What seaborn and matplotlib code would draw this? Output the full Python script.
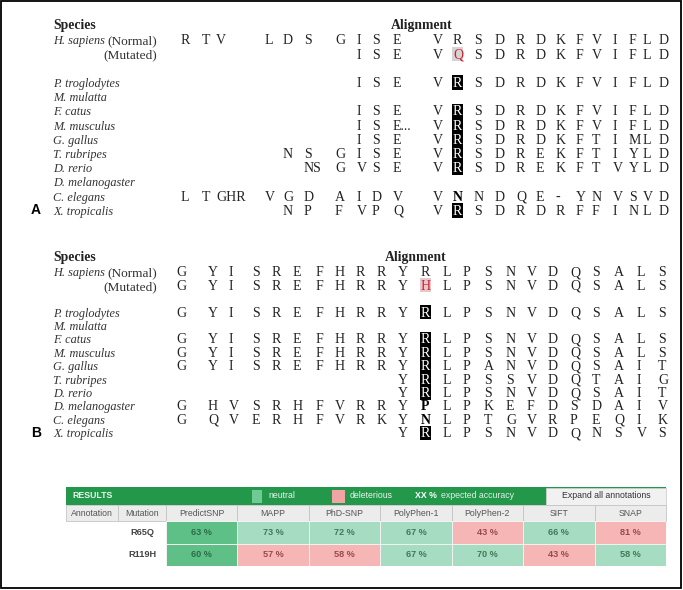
import numpy as np
import matplotlib
matplotlib.use("Agg")
import matplotlib.pyplot as plt
import seaborn as sns
from matplotlib.colors import ListedColormap
from matplotlib.patches import Rectangle

# ---------------- data ----------------
species = ["H. sapiens", "", "", "P. troglodytes", "M. mulatta", "F. catus", "M. musculus",
           "G. gallus", "T. rubripes", "D. rerio", "D. melanogaster", "C. elegans", "X. tropicalis"]

# '_' = no residue shown
align_a = [
    "R T V L D S G I S E V R S D R D K F V I F L D",
    "_ _ _ _ _ _ _ I S E V Q S D R D K F V I F L D",
    "",
    "_ _ _ _ _ _ _ I S E V R S D R D K F V I F L D",
    "",
    "_ _ _ _ _ _ _ I S E V R S D R D K F V I F L D",
    "_ _ _ _ _ _ _ I S E... V R S D R D K F V I F L D",
    "_ _ _ _ _ _ _ I S E V R S D R D K F T I M L D",
    "_ _ _ _ N S G I S E V R S D R E K F T I Y L D",
    "_ _ _ _ _ NS G V S E V R S D R E K F T V Y L D",
    "",
    "L T GHR V G D A I D V V N N D Q E - Y N V S V D",
    "_ _ _ _ N P F V P Q V R S D R D R F F I N L D",
]
align_b = [
    "G Y I S R E F H R R Y R L P S N V D Q S A L S",
    "G Y I S R E F H R R Y H L P S N V D Q S A L S",
    "",
    "G Y I S R E F H R R Y R L P S N V D Q S A L S",
    "",
    "G Y I S R E F H R R Y R L P S N V D Q S A L S",
    "G Y I S R E F H R R Y R L P S N V D Q S A L S",
    "G Y I S R E F H R R Y R L P A N V D Q S A I T",
    "_ _ _ _ _ _ _ _ _ _ Y R L P S S V D Q T A I G",
    "_ _ _ _ _ _ _ _ _ _ Y R L P S N V D Q S A I T",
    "G H V S R H F V R R Y P L P K E F D S D A I V",
    "G Q V E R H F V R K Y N L P T G V R P E Q I K",
    "_ _ _ _ _ _ _ _ _ _ Y R L P S N V D Q N S V S",
]
site_a, site_b = 11, 11          # column of the mutated residue

tools = ["PredictSNP", "MAPP", "PhD-SNP", "PolyPhen-1", "PolyPhen-2", "SIFT", "SNAP"]
mutations = ["R65Q", "R119H"]
accuracy = [[63, 73, 72, 67, 43, 66, 81],
            [60, 57, 58, 67, 70, 43, 58]]
prediction = [["N", "N", "N", "N", "D", "N", "D"],
              ["N", "D", "D", "N", "N", "D", "N"]]

# ---------------- layout ----------------
W, H = 683, 590
cols_a = [181, 202, 216, 265, 283, 304, 335, 357, 372, 393, 433, 453, 474, 495, 516,
          536, 556, 576, 592, 613, 629, 643, 659]
cols_b = [176, 208, 229, 252, 272, 293, 316, 335, 356, 377, 398, 421, 443, 463, 484,
          506, 527, 548, 570, 592, 614, 637, 658]

serif = "Liberation Serif"
sans = "Liberation Sans"
ink = "#222222"
base = 4.4   # baseline offset below the row centre (px)

fig = plt.figure(figsize=(W / 100, H / 100), dpi=100)
canvas = fig.add_axes([0, 0, 1, 1])
canvas.set_xlim(0, W)
canvas.set_ylim(H, 0)
canvas.axis("off")
canvas.add_patch(Rectangle((0.8, 0.8), W - 2.6, H - 2.6, fill=False, ec="black", lw=1.3))


def alignment_panel(rows, cols, site, y0, step, y_head, x_head, label, mut_color_bg):
    canvas.text(53, y_head + base, "Species", family=serif, weight="bold", fontsize=9.8,
                va="baseline", color=ink)
    canvas.text(x_head, y_head + base, "Alignment", family=serif, weight="bold", fontsize=9.8,
                va="baseline", ha="center", color=ink)
    for i, (name, seq) in enumerate(zip(species, rows)):
        y = y0 + step * i
        if name:
            canvas.text(53, y + base, name, family=serif, style="italic", fontsize=8.8,
                        va="baseline", color="#333333")
        if i == 0:
            canvas.text(157, y + base, "(Normal)", family=serif, fontsize=9.6, va="baseline",
                        ha="right", color="#333333")
        if i == 1:
            canvas.text(157, y + base, "(Mutated)", family=serif, fontsize=9.6, va="baseline",
                        ha="right", color="#333333")
        for j, res in enumerate(seq.split()):
            if res == "_":
                continue
            kw = dict(family=serif, fontsize=10, va="baseline", ha="left", color=ink)
            if j == site and i > 0:
                if i == 1:
                    canvas.add_patch(Rectangle((cols[j] - 1.5, y - 7), 11.5, 14,
                                               fc=mut_color_bg, ec="none"))
                    kw.update(color="#d0202a")
                elif res == "R":
                    canvas.add_patch(Rectangle((cols[j] - 1, y - step / 2 - 0.3), 10.5,
                                               step + 0.6, fc="black", ec="none"))
                    kw.update(color="white")
                else:
                    kw.update(weight="bold", color="black")
            canvas.text(cols[j], y + base, res, **kw)
    canvas.text(31, y0 + step * 12, label, family=sans, weight="bold", fontsize=10,
                va="center", color="black")


alignment_panel(align_a, cols_a, site_a, 40, 14.2, 25, 422, "A", "#d4d4d4")
alignment_panel(align_b, cols_b, site_b, 272, 13.4, 257, 416, "B", "#e6c8cc")

# ---------------- panel C: results table ----------------
t_left, t_right = 66, 666
c_ann, c_mut, c_tab = 66, 118, 166
y_bar, y_hdr, y_row, y_end = 487, 505, 521, 566
cw = (t_right - c_tab) / len(tools)
ymid = (y_bar + y_hdr) / 2

canvas.add_patch(Rectangle((t_left, y_bar), t_right - t_left, y_hdr - y_bar, fc="#23984b", ec="none"))
canvas.text(72, ymid, "RESULTS", family=sans, weight="bold", fontsize=6.3,
            color="#e8f6ec", va="center")
canvas.add_patch(Rectangle((252, 489.5), 10, 13, fc="#6fcb93", ec="none"))
canvas.text(268, ymid, "neutral", family=sans, fontsize=6.3, color="#e8f6ec", va="center")
canvas.add_patch(Rectangle((332, 489.5), 13, 13, fc="#f2a3a3", ec="none"))
canvas.text(350, ymid, "deleterious", family=sans, fontsize=6.3, color="#e8f6ec", va="center")
canvas.text(415, ymid, "XX %", family=sans, weight="bold", fontsize=6.3,
            color="white", va="center")
canvas.text(441, ymid, "expected accuracy", family=sans, fontsize=6.3,
            color="#dff3e6", va="center")
canvas.add_patch(Rectangle((546, y_bar + 0.5), t_right - 546, y_hdr - y_bar - 1, fc="#f1f1f1",
                           ec="#cfcfcf", lw=0.6))
canvas.text(606, ymid, "Expand all annotations", family=sans, fontsize=6.3,
            color="#333333", va="center", ha="center")

# column header row
hdr_names = ["Annotation", "Mutation"] + tools
hdr_edges = [c_ann, c_mut] + [c_tab + k * cw for k in range(len(tools) + 1)]
for k, name in enumerate(hdr_names):
    x0, x1 = hdr_edges[k], hdr_edges[k + 1]
    canvas.add_patch(Rectangle((x0, y_hdr), x1 - x0, y_row - y_hdr, fc="#ececec",
                               ec="#c4c4c4", lw=0.6))
    canvas.text((x0 + x1) / 2, (y_hdr + y_row) / 2, name, family=sans, fontsize=6.3,
                color="#555555", va="center", ha="center")

# mutation labels
row_h = (y_end - y_row) / len(mutations)
for r, m in enumerate(mutations):
    canvas.text((c_mut + c_tab) / 2, y_row + row_h * (r + 0.5), m, family=sans,
                weight="bold", fontsize=6.6, color="#444444", va="center", ha="center")

# heatmap of predictions
code = np.array([[0 if c == 0 and p == "N" else (1 if p == "N" else 2)
                  for c, p in enumerate(row)] for row in prediction])
labels = np.array([[f"{v} %" for v in row] for row in accuracy])
ax_tab = fig.add_axes([c_tab / W, 1 - y_end / H, (t_right - c_tab) / W, (y_end - y_row) / H])
cell_cmap = ListedColormap(["#5ebf87", "#a6dcc1", "#f6b6b6"])
sns.heatmap(code, ax=ax_tab, cmap=cell_cmap, vmin=-0.5, vmax=2.5, cbar=False,
            annot=labels, fmt="", linewidths=0.6, linecolor="#eef3ef",
            xticklabels=False, yticklabels=False,
            annot_kws=dict(fontsize=6.6, family=sans, weight="bold"))
text_cols = {0: "#2b6e46", 1: "#3f7a5a", 2: "#9a4a4a"}
for t, c in zip(ax_tab.texts, code.ravel()):
    t.set_color(text_cols[c])

fig.savefig("out.png", dpi=100)
